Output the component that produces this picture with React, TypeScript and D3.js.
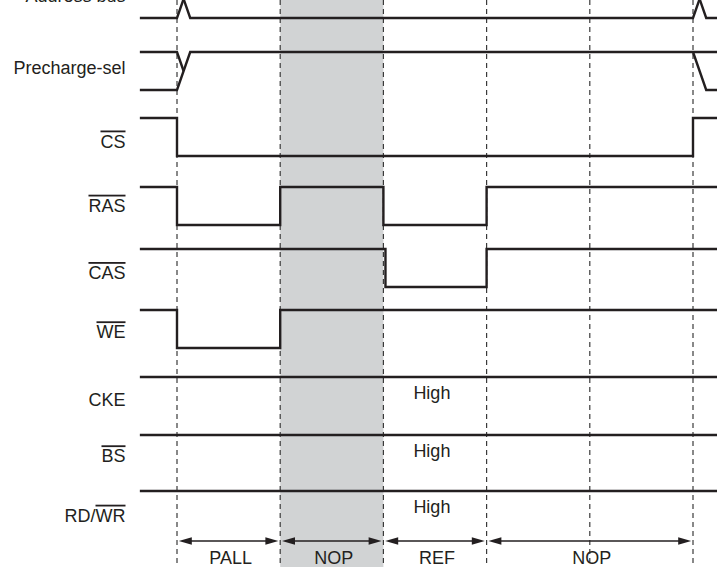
import React from "react";
import * as d3 from "d3";

// ---------- data ----------
const clockEdges = [0, 1, 2, 3, 4, 5];
const commandNames = ["PALL", "NOP", "REF", "NOP"];
const commandStarts = [0, 1, 2, 3];
const commandEnds = [1, 2, 3, 5];
const shadedStart = 1;
const shadedEnd = 2;

const signalNames = ["Address bus", "Precharge-sel", "CS", "RAS", "CAS", "WE", "CKE", "BS", "RD/WR"];
// label pieces: [text, overlined]
const labelParts: [string, boolean][][] = [
  [["Address bus", false]],
  [["Precharge-sel", false]],
  [["CS", true]],
  [["RAS", true]],
  [["CAS", true]],
  [["WE", true]],
  [["CKE", false]],
  [["BS", true]],
  [["RD/", false], ["WR", true]],
];

const tMin = -0.36;
const tMax = 5.24;
const crossWidth = 0.128;

// step signals: initial level and toggle times
const csToggles = [0, 5];
const rasToggles = [0, 1, 2, 3];
const casToggles = [2.02, 3];
const weToggles = [0, 1];
const stepInitialLevel = 1;

const busCrossings = [0, 5]; // Address bus
const prechargeResolve = 0;
const prechargeRelease = 5;

const constantSignals = ["CKE", "BS", "RD/WR"];
const constantNote = "High";
const noteTime = 2.47;

// ---------- layout ----------
const W = 717;
const H = 567;
const rowTop = [-20, 52, 118, 187, 249, 310, 377, 435, 491];
const levelH = 38;
const labelBaseline = [2, 74, 147.5, 211.7, 279, 338.3, 406, 462.3, 521.7];
const labelRight = 125.5;
const arrowY = 541;
const cmdBaseline = 564;
const ink = "#231f20";
const font = "'Liberation Sans', Arial, Helvetica, sans-serif";

const x = d3.scaleLinear().domain([0, 5]).range([177, 693]);

type Pt = [number, number];

function stepPoints(toggles: number[], init: number): Pt[] {
  const pts: Pt[] = [[tMin, init]];
  let cur = init;
  toggles.forEach((t) => {
    pts.push([t, cur]);
    cur = 1 - cur;
    pts.push([t, cur]);
  });
  pts.push([tMax, cur]);
  return pts;
}

export default function App() {
  const yOf = (row: number) =>
    d3.scaleLinear().domain([0, 1]).range([rowTop[row] + levelH, rowTop[row]]);

  const mkLine = (row: number) => {
    const y = yOf(row);
    return d3
      .line<Pt>()
      .x((d) => x(d[0]))
      .y((d) => y(d[1]));
  };

  const paths: string[] = [];

  // Address bus
  {
    const l = mkLine(0);
    const [c0, c1] = busCrossings;
    paths.push(
      l([[tMin, 0], [c0, 0], [c0 + crossWidth, 1], [c1, 1], [c1 + crossWidth, 0], [tMax, 0]])!
    );
    paths.push(
      l([[tMin, 1], [c0, 1], [c0 + crossWidth, 0], [c1, 0], [c1 + crossWidth, 1], [tMax, 1]])!
    );
  }
  // Precharge-sel
  {
    const l = mkLine(1);
    paths.push(
      l([[tMin, 0], [prechargeResolve, 0], [prechargeResolve + crossWidth, 1], [tMax, 1]])!
    );
    paths.push(l([[tMin, 1], [prechargeResolve, 1], [prechargeResolve + crossWidth / 2, 0.5]])!);
    paths.push(l([[prechargeRelease, 1], [prechargeRelease + crossWidth, 0], [tMax, 0]])!);
  }
  // step signals
  const steps: [number, number[]][] = [
    [2, csToggles],
    [3, rasToggles],
    [4, casToggles],
    [5, weToggles],
  ];
  steps.forEach(([row, tg]) => {
    paths.push(mkLine(row)(stepPoints(tg, stepInitialLevel))!);
  });
  // constant
  constantSignals.forEach((name) => {
    const row = signalNames.indexOf(name);
    paths.push(mkLine(row)([[tMin, 1], [tMax, 1]])!);
  });

  const ah = 13;
  const aw = 3.7;
  const gap = 1.8;

  return (
    <svg
      width={W}
      height={H}
      viewBox={`0 0 ${W} ${H}`}
      style={{ position: "absolute", left: 0, top: 0, background: "#fff" }}
      fontFamily={font}
    >
      <rect x={0} y={0} width={W} height={H} fill="#fff" />
      <rect
        x={x(shadedStart)}
        y={0}
        width={x(shadedEnd) - x(shadedStart)}
        height={H}
        fill="#d1d3d4"
      />
      {clockEdges.map((t, i) => (
        <line
          key={"d" + i}
          x1={x(t)}
          x2={x(t)}
          y1={0}
          y2={H}
          stroke="#3a3a3a"
          strokeWidth={1.2}
          strokeDasharray="5,4"
        />
      ))}
      {paths.map((d, i) => (
        <path
          key={"p" + i}
          d={d}
          fill="none"
          stroke={ink}
          strokeWidth={2.4}
          strokeLinejoin="miter"
        />
      ))}
      {labelParts.map((parts, i) => (
        <text
          key={"l" + i}
          x={labelRight}
          y={labelBaseline[i]}
          textAnchor="end"
          fontSize={18}
          fill={ink}
        >
          {parts.map(([s, over], j) => (
            <tspan key={j} style={over ? { textDecoration: "overline" } : undefined}>
              {s}
            </tspan>
          ))}
        </text>
      ))}
      {constantSignals.map((name) => {
        const row = signalNames.indexOf(name);
        return (
          <text
            key={"h" + name}
            x={x(noteTime)}
            y={rowTop[row] + 22}
            textAnchor="middle"
            fontSize={18}
            fill={ink}
          >
            {constantNote}
          </text>
        );
      })}
      {commandNames.map((name, i) => {
        const x0 = x(commandStarts[i]) + gap;
        const x1 = x(commandEnds[i]) - gap;
        return (
          <g key={"c" + i}>
            <line x1={x0 + ah - 1} x2={x1 - ah + 1} y1={arrowY} y2={arrowY} stroke={ink} strokeWidth={1.3} />
            <path
              d={`M${x0},${arrowY}L${x0 + ah},${arrowY - aw}L${x0 + ah},${arrowY + aw}Z`}
              fill={ink}
            />
            <path
              d={`M${x1},${arrowY}L${x1 - ah},${arrowY - aw}L${x1 - ah},${arrowY + aw}Z`}
              fill={ink}
            />
            <text
              x={(x(commandStarts[i]) + x(commandEnds[i])) / 2 + 2}
              y={cmdBaseline}
              textAnchor="middle"
              fontSize={18}
              fill={ink}
            >
              {name}
            </text>
          </g>
        );
      })}
    </svg>
  );
}
